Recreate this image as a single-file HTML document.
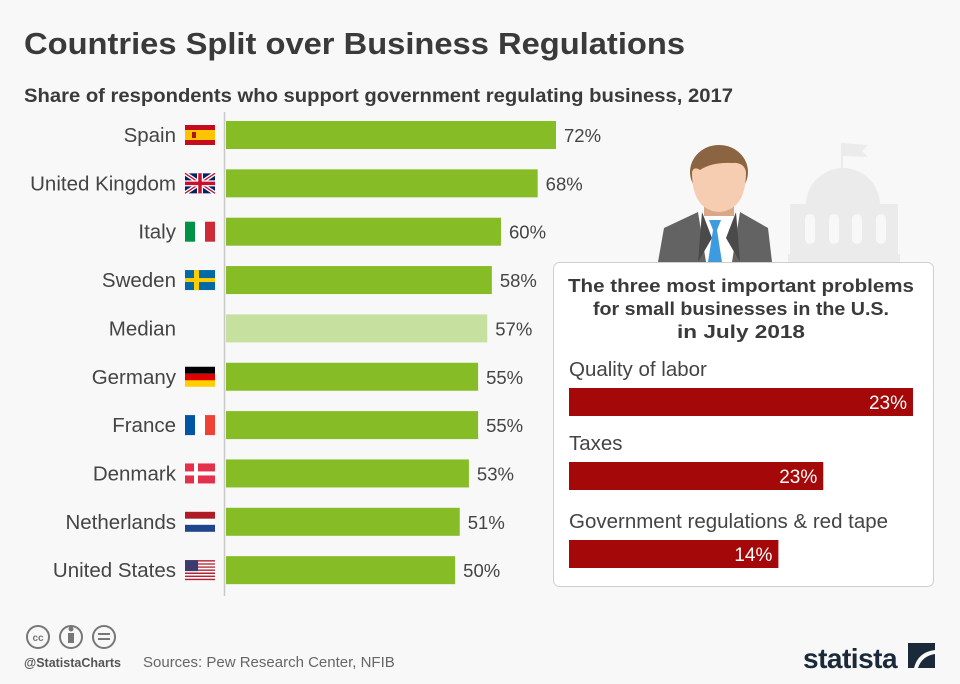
<!DOCTYPE html>
<html><head><meta charset="utf-8">
<style>
body{margin:0;background:#f8f8f8;}
#root{position:relative;width:960px;height:684px;background:#f8f8f8;font-family:"Liberation Sans",sans-serif;overflow:hidden;}
svg text{font-family:"Liberation Sans",sans-serif;}
</style></head><body>
<div id="root">
<svg id="svg" width="960" height="684">
<text x="24" y="54" font-size="31" font-weight="bold" fill="#3a3a3a" textLength="661" lengthAdjust="spacingAndGlyphs">Countries Split over Business Regulations</text>
<text x="24" y="102" font-size="19" font-weight="bold" fill="#3a3a3a" textLength="709" lengthAdjust="spacingAndGlyphs">Share of respondents who support government regulating business, 2017</text>
<line x1="224.5" y1="112" x2="224.5" y2="596" stroke="#c8c8c8" stroke-width="1.5"/>
<g id="bars"></g>
<g id="flags"></g>
<g fill="#ebebeb">
<rect x="841" y="143" width="2" height="32"/>
<path d="M843 143 L868 145 L862 151 L868 157 L843 156 Z"/>
<path d="M806 205 A37 37 0 0 1 880 205 Z"/>
<rect x="790" y="204" width="108" height="58"/>
<rect x="788" y="254" width="112" height="8"/>
</g>
<g fill="#f8f8f8">
<rect x="805" y="214" width="10" height="30" rx="5"/><rect x="829" y="214" width="10" height="30" rx="5"/><rect x="852" y="214" width="10" height="30" rx="5"/><rect x="876" y="214" width="10" height="30" rx="5"/>
</g>
<g>
<path d="M658 262 L664 228 L698 212 L740 212 L768 228 L772 262 Z" fill="#636363"/>
<path d="M698 212 L740 212 L732 262 L706 262 Z" fill="#fff"/>
<path d="M702 212 L712 238 L698 262 Z" fill="#4a4a4a"/>
<path d="M736 212 L726 238 L740 262 Z" fill="#4a4a4a"/>
<path d="M709 220 L721 220 L717 230 L722 262 L708 262 L713 230 Z" fill="#3d9be0"/>
<rect x="704" y="196" width="30" height="20" fill="#d9a888"/>
<ellipse cx="719" cy="172" rx="29" ry="27" fill="#8b6541"/>
<path d="M692 172 Q692 210 719 212 Q746 210 746 172 Q744 162 732 163 Q712 162 700 170 Q694 166 692 172 Z" fill="#f6cdb0"/>
</g>
<rect x="553.5" y="262.5" width="380" height="324" rx="6" fill="#fff" stroke="#cfcfcf"/>
<text text-anchor="middle" font-size="18.5" font-weight="bold" fill="#3a3a3a"><tspan x="741" y="292" textLength="346" lengthAdjust="spacingAndGlyphs">The three most important problems</tspan><tspan x="741" y="315" textLength="296" lengthAdjust="spacingAndGlyphs">for small businesses in the U.S.</tspan><tspan x="741" y="338" textLength="128" lengthAdjust="spacingAndGlyphs">in July 2018</tspan></text>
<g id="inset"></g>
<g fill="none" stroke="#777" stroke-width="2">
<circle cx="38" cy="637" r="11"/><circle cx="71" cy="637" r="11"/><circle cx="104" cy="637" r="11"/>
</g>
<text x="38" y="641" font-size="10" font-weight="bold" fill="#777" text-anchor="middle">cc</text>
<rect x="68" y="633" width="6" height="10" fill="#777"/><circle cx="71" cy="629" r="2.5" fill="#777"/>
<rect x="98" y="633" width="12" height="2" fill="#777"/><rect x="98" y="638" width="12" height="2" fill="#777"/>
<text x="24" y="667" font-size="12.5" font-weight="bold" fill="#555">@StatistaCharts</text>
<text x="143" y="667" font-size="15" fill="#666">Sources: Pew Research Center, NFIB</text>
<text x="803" y="668" font-size="28" font-weight="bold" fill="#1b2a3a" letter-spacing="-0.5">statista</text>
<path d="M908 643 L935 643 L935 650 Q918 652 914 668 L908 668 Z M935 654 L935 668 L918 668 Q922 656 935 654 Z" fill="#1b2a3a"/>
</svg>
</div>
<script>
const countries=["Spain","United Kingdom","Italy","Sweden","Median","Germany","France","Denmark","Netherlands","United States"];
const shares=[72,68,60,58,57,55,55,53,51,50];
const problems=["Quality of labor","Taxes","Government regulations & red tape"];
const problemValues=[23,17,14];
const problemLabels=["23%","23%","14%"];
const NS="http://www.w3.org/2000/svg";
function mk(tag,attrs,parent){const e=document.createElementNS(NS,tag);for(const k in attrs)e.setAttribute(k,attrs[k]);parent.appendChild(e);return e;}
const x0=226,pxPer=330/72;
function xs(v){return v*pxPer;}
function yc(i){return 135+i*48.35;}
const bars=document.getElementById('bars');
countries.forEach((c,i)=>{
 const y=yc(i);
 const slug=c.toLowerCase().replace(/ /g,'-');
 const r=mk('rect',{x:x0,y:y-14,width:xs(shares[i]),height:28,fill:c==="Median"?"#c6e0a0":"#86bc25"},bars);
 
 
 const t=mk('text',{x:176,y:y+7,'font-size':20.5,fill:'#444','text-anchor':'end'},bars);
 t.textContent=c;
 
 
 const v=mk('text',{x:x0+xs(shares[i])+8,y:y+7,'font-size':18.5,fill:'#444'},bars);
 v.textContent=shares[i]+'%';
 
 
});
const fl=document.getElementById('flags');
function flag(i,draw){const g=mk('g',{transform:`translate(185,${yc(i)-10})`},fl);draw(g);}
flag(0,g=>{mk('rect',{width:30,height:20,fill:'#c60b1e'},g);mk('rect',{y:5,width:30,height:10,fill:'#ffc400'},g);mk('rect',{x:7,y:7,width:4,height:6,fill:'#ad1519'},g);});
flag(1,g=>{mk('rect',{width:30,height:20,fill:'#012169'},g);mk('path',{d:'M0 0L30 20M30 0L0 20',stroke:'#fff','stroke-width':4},g);mk('path',{d:'M0 0L30 20M30 0L0 20',stroke:'#c8102e','stroke-width':1.3},g);mk('path',{d:'M15 0V20M0 10H30',stroke:'#fff','stroke-width':6},g);mk('path',{d:'M15 0V20M0 10H30',stroke:'#c8102e','stroke-width':3.5},g);});
flag(2,g=>{mk('rect',{width:10,height:20,fill:'#009246'},g);mk('rect',{x:10,width:10,height:20,fill:'#fff'},g);mk('rect',{x:20,width:10,height:20,fill:'#ce2b37'},g);});
flag(3,g=>{mk('rect',{width:30,height:20,fill:'#006aa7'},g);mk('rect',{x:9,width:5,height:20,fill:'#fecc00'},g);mk('rect',{y:8,width:30,height:4,fill:'#fecc00'},g);});
flag(5,g=>{mk('rect',{width:30,height:7,fill:'#000'},g);mk('rect',{y:7,width:30,height:7,fill:'#dd0000'},g);mk('rect',{y:13.5,width:30,height:6.5,fill:'#ffce00'},g);});
flag(6,g=>{mk('rect',{width:10,height:20,fill:'#0055a4'},g);mk('rect',{x:10,width:10,height:20,fill:'#fff'},g);mk('rect',{x:20,width:10,height:20,fill:'#ef4135'},g);});
flag(7,g=>{mk('rect',{width:30,height:20,fill:'#e4314b'},g);mk('rect',{x:9,width:4,height:20,fill:'#fff'},g);mk('rect',{y:8,width:30,height:4,fill:'#fff'},g);});
flag(8,g=>{mk('rect',{width:30,height:7,fill:'#ae1c28'},g);mk('rect',{y:7,width:30,height:6,fill:'#fff'},g);mk('rect',{y:13,width:30,height:7,fill:'#21468b'},g);});
flag(9,g=>{for(let k=0;k<13;k+=2)mk('rect',{y:k*20/13,width:30,height:20/13,fill:'#b22234'},g);for(let k=1;k<13;k+=2)mk('rect',{y:k*20/13,width:30,height:20/13,fill:'#fff'},g);mk('rect',{width:13,height:11,fill:'#3c3b6e'},g);});
const ins=document.getElementById('inset');
const ix0=569,ipx=344/23;
const iy=[388,462,540];
problems.forEach((p,i)=>{
 const t=mk('text',{x:569,y:iy[i]-12,'font-size':20.5,fill:'#444'},ins);t.textContent=p;
 
 
 const w=problemValues[i]*ipx;
 const r=mk('rect',{x:ix0,y:iy[i],width:w,height:28,fill:'#a50808'},ins);
 
 
 const v=mk('text',{x:ix0+w-6,y:iy[i]+21,'font-size':19,fill:'#fff','text-anchor':'end'},ins);v.textContent=problemLabels[i];
 
 
});
</script>
</body></html>
